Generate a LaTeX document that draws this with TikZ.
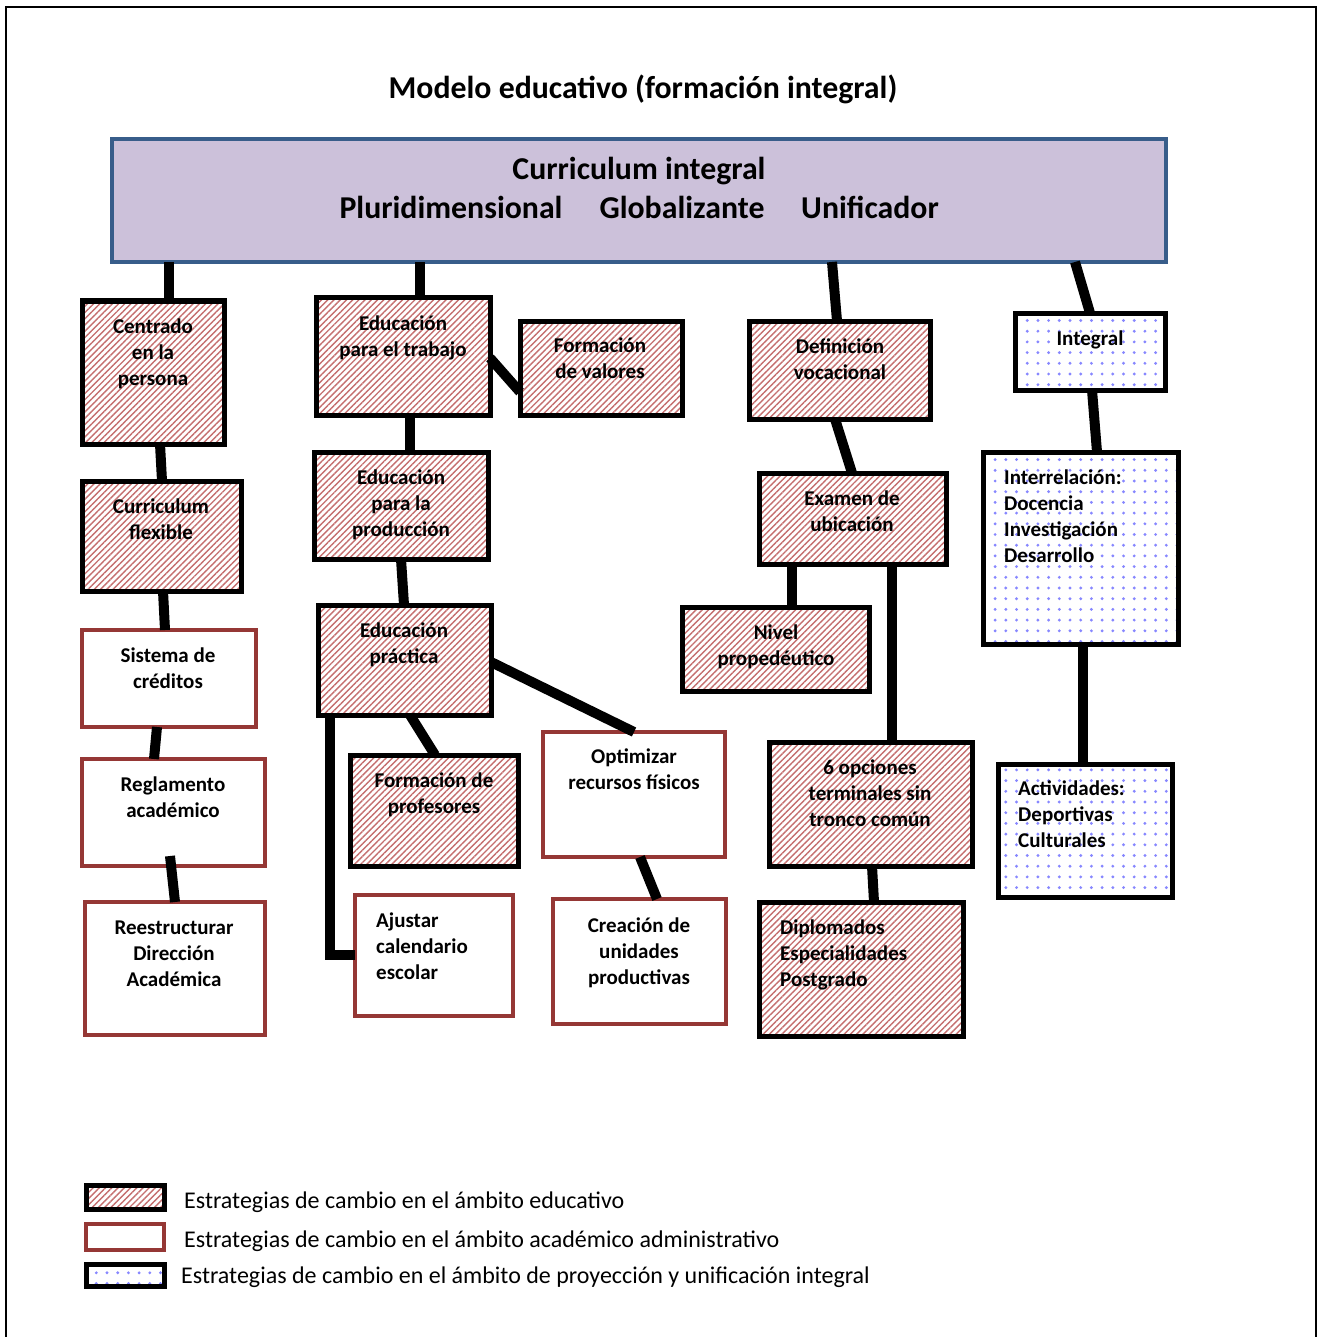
\documentclass[tikz,border=0pt]{standalone}
\usepackage{fontspec}
\setmainfont{Carlito}
\usetikzlibrary{patterns.meta,calc}
\definecolor{hatchred}{RGB}{196,110,110}
\definecolor{boxred}{RGB}{149,55,53}
\definecolor{dotblue}{RGB}{135,135,255}
\definecolor{lav}{RGB}{204,193,218}
\definecolor{topblue}{RGB}{56,93,138}
\newcommand\firstln{\rule{0pt}{18pt}}
\newcommand\mybox[6]{\node[#1, minimum width={#5-#3-4}, minimum height={#6-#4-4}, anchor=north west] (#2) at (#3+2,#4+2) {};}
\tikzset{
  boxbase/.style={inner sep=0pt, outer sep=0pt},
  hbox/.style={boxbase, draw=black, line width=5pt, pattern={Lines[angle=45,distance=4.4pt,line width=1.4pt]}, pattern color=hatchred},
  rbox/.style={boxbase, draw=boxred, line width=4pt, fill=white},
  dbox/.style={boxbase, draw=black, line width=5pt, pattern={Dots[radius=1.6pt,distance=10.7pt]}, pattern color=dotblue},
  tbox/.style={boxbase, draw=topblue, line width=4pt, fill=lav},
  conn/.style={line width=10pt, black},
  btxt/.style={font=\fontsize{21}{26}\selectfont\bfseries, inner sep=0pt, align=center, anchor=north},
  ltx/.style={font=\fontsize{21}{26}\selectfont\bfseries, inner sep=0pt, align=left, anchor=north west},
  ttxt/.style={font=\fontsize{31.8}{39}\selectfont\bfseries, inner sep=0pt, anchor=base},
  legtxt/.style={font=\fontsize{24}{30}\selectfont, inner sep=0pt, anchor=base west},
}
\begin{document}
\begin{tikzpicture}[x=1pt,y=-1pt]
\useasboundingbox (0,0) rectangle (1322,1337);
\draw[line width=2pt] (6,1337) -- (6,7) -- (1316,7) -- (1316,1337);

% title
\node[ttxt] (title) at (643,99) {Modelo educativo (formación integral)};

% top box
\mybox{tbox}{top}{110}{137}{1168}{264}
\node[ttxt] (tl1) at (639,180) {Curriculum integral};
\node[ttxt] (tl2) at (451,219) {Pluridimensional};
\node[ttxt] (tl3) at (682,219) {Globalizante};
\node[ttxt] (tl4) at (870,219) {Unificador};

% column 1
\mybox{hbox}{cen}{80}{299}{226}{446}
\mybox{hbox}{flex}{80}{479}{243}{593}
\mybox{rbox}{sis}{80}{628}{258}{729}
\mybox{rbox}{reg}{80}{757}{267}{868}
\mybox{rbox}{ree}{83}{900}{267}{1037}
% column 2
\mybox{hbox}{trab}{314}{296}{492}{417}
\mybox{hbox}{val}{518}{319}{684}{417}
\mybox{hbox}{prod}{312}{450}{490}{561}
\mybox{hbox}{prac}{316}{603}{493}{717}
\mybox{hbox}{prof}{348}{753}{520}{868}
\mybox{rbox}{opt}{541}{730}{727}{859}
\mybox{rbox}{aju}{353}{893}{515}{1018}
\mybox{rbox}{cre}{551}{897}{728}{1026}
% column 3
\mybox{hbox}{def}{747}{319}{932}{421}
\mybox{hbox}{exa}{757}{471}{948}{566}
\mybox{hbox}{niv}{680}{605}{871}{693}
\mybox{hbox}{opc}{767}{740}{974}{868}
\mybox{hbox}{dip}{757}{900}{965}{1038}
% column 4
\mybox{dbox}{int}{1013}{311}{1167}{392}
\mybox{dbox}{inter}{981}{450}{1180}{646}
\mybox{dbox}{act}{996}{762}{1174}{899}

% texts
\node[btxt] (cenT) at (153,315) {\firstln Centrado\\en la\\persona};
\node[btxt] (flexT) at (161,495) {\firstln Curriculum\\flexible};
\node[btxt] (sisT) at (168,644) {\firstln Sistema de\\créditos};
\node[btxt] (regT) at (173,773) {\firstln Reglamento\\académico};
\node[btxt] (reeT) at (174,916) {\firstln Reestructurar\\Dirección\\Académica};
\node[btxt] (trabT) at (403,312) {\firstln Educación\\para el trabajo};
\node[btxt] (valT) at (600,334) {\firstln Formación\\de valores};
\node[btxt] (prodT) at (401,466) {\firstln Educación\\para la\\producción};
\node[btxt] (pracT) at (404,619) {\firstln Educación\\práctica};
\node[btxt] (profT) at (434,769) {\firstln Formación de\\profesores};
\node[btxt] (optT) at (634,745) {\firstln Optimizar\\recursos físicos};
\node[ltx] (ajuT) at (376,909) {\firstln Ajustar\\calendario\\escolar};
\node[btxt] (creT) at (639,914) {\firstln Creación de\\unidades\\productivas};
\node[btxt] (defT) at (840,335) {\firstln Definición\\vocacional};
\node[btxt] (exaT) at (852,487) {\firstln Examen de\\ubicación};
\node[btxt] (nivT) at (776,621) {\firstln Nivel\\propedéutico};
\node[btxt] (opcT) at (870,756) {\firstln 6 opciones\\terminales sin\\tronco común};
\node[ltx] (dipT) at (780,916) {\firstln Diplomados\\Especialidades\\Postgrado};
\node[btxt] (intT) at (1090,327) {\firstln Integral};
\node[ltx] (interT) at (1004,466) {\firstln Interrelación:\\Docencia\\Investigación\\Desarrollo};
\node[ltx] (actT) at (1018,777) {\firstln Actividades:\\Deportivas\\Culturales};

% connectors
\draw[conn] (top.south -| 169,0) -- (cen.north -| 169,0);
\draw[conn] (cen.south -| 160,0) -- (flex.north -| 162,0);
\draw[conn] (flex.south -| 163,0) -- (sis.north -| 165,0);
\draw[conn] (sis.south -| 157,0) -- (reg.north -| 154,0);
\draw[conn] ([yshift=10pt]reg.south -| 170,0) -- (ree.north -| 175,0);
\draw[conn] (top.south -| 420,0) -- (trab.north -| 420,0);
\draw[conn] (trab.east |- 0,358) -- (val.west |- 0,392);
\draw[conn] (trab.south -| 410,0) -- (prod.north -| 410,0);
\draw[conn] (prod.south -| 401,0) -- (prac.north -| 404,0);
\draw[conn] (prac.east |- 0,662) -- (opt.north -| 634,0);
\draw[conn] (prac.south -| 410,0) -- (prof.north -| 435,0);
\draw[conn] (prac.south -| 330,0) |- (aju.west |- 0,955);
\draw[conn] (opt.south -| 640,0) -- (cre.north -| 657,0);
\draw[conn] (top.south -| 832,0) -- (def.north -| 837,0);
\draw[conn] (def.south -| 835,0) -- (exa.north -| 852,0);
\draw[conn] (exa.south -| 792,0) -- (niv.north -| 792,0);
\draw[conn] (exa.south -| 892,0) -- (opc.north -| 892,0);
\draw[conn] (opc.south -| 872,0) -- (dip.north -| 874,0);
\draw[conn] (top.south -| 1075,0) -- (int.north -| 1090,0);
\draw[conn] (int.south -| 1092,0) -- (inter.north -| 1097,0);
\draw[conn] (inter.south -| 1083,0) -- (act.north -| 1083,0);

% legend
\mybox{hbox}{leg1}{84}{1183}{166}{1211}
\mybox{rbox}{leg2}{84}{1222}{166}{1252}
\mybox{dbox}{leg3}{84}{1262}{166}{1288}
\node[legtxt] (leg1T) at (184,1208) {Estrategias de cambio en el ámbito educativo};
\node[legtxt] (leg2T) at (184,1247) {Estrategias de cambio en el ámbito académico administrativo};
\node[legtxt] (leg3T) at (181,1283) {Estrategias de cambio en el ámbito de proyección y unificación integral};
\end{tikzpicture}
\end{document}
